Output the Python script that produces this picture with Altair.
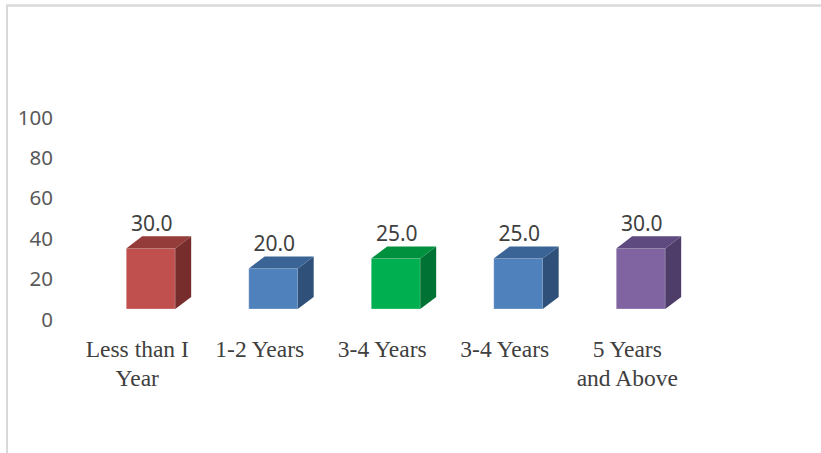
import json
import altair as alt
import pandas as pd

# ---- data ----
categories = ["Less than I Year", "1-2 Years", "3-4 Years", "3-4 Years", "5 Years and Above"]
category_lines = [["Less than I", "Year"], ["1-2 Years"], ["3-4 Years"], ["3-4 Years"], ["5 Years", "and Above"]]
values = [30.0, 20.0, 25.0, 25.0, 30.0]
front_colors = ["#C0504D", "#4F81BD", "#00B050", "#4F81BD", "#8064A2"]
top_colors = ["#933C39", "#3A6496", "#00913F", "#3A6496", "#5F4A7F"]
side_colors = ["#772D2B", "#2E5079", "#007233", "#2E5079", "#4E3C69"]
y_ticks = [0, 20, 40, 60, 80, 100]

# ---- 3D geometry (style constants) ----
HW = 0.2     # half bar width, x units
DX = 0.13    # depth offset, x units
DY = 6.0     # depth offset, y units

front_rows, side_rows, top_rows = [], [], []
for i, (v, fc, tc, sc) in enumerate(zip(values, front_colors, top_colors, side_colors)):
    front_rows.append(dict(bar=i, x0=i - HW, x1=i + HW, v=v, color=fc, label=f"{v:.1f}", xc=i, ly=v + DY))
    side_rows += [
        dict(bar=i, x=i + HW, y=v, y2=0.0, color=sc),
        dict(bar=i, x=i + HW + DX, y=v + DY, y2=DY, color=sc),
    ]
    top_rows += [
        dict(bar=i, y=v, x=i - HW, x2=i + HW, color=tc),
        dict(bar=i, y=v + DY, x=i - HW + DX, x2=i + HW + DX, color=tc),
    ]

front = pd.DataFrame(front_rows)
side = pd.DataFrame(side_rows)
top = pd.DataFrame(top_rows)

xscale = alt.Scale(domain=[-0.5, 4.5], nice=False, zero=False)
yscale = alt.Scale(domain=[0, 100], nice=False, zero=False)

label_expr = "split(" + json.dumps(["|".join(l) for l in category_lines]) + "[datum.value], '|')"

x_axis = alt.Axis(values=[0, 1, 2, 3, 4], labelExpr=label_expr, domain=False, ticks=False, grid=False,
                  labelFont="Liberation Serif", labelFontSize=23.5, labelColor="#404040",
                  labelPadding=28, labelOffset=-14, labelLineHeight=29, labelAngle=0)
y_axis = alt.Axis(values=y_ticks, domain=False, ticks=False, grid=False,
                  labelFont="Noto Sans", labelFontSize=20.5, labelColor="#595959",
                  labelPadding=37, labelOffset=11)

front_layer = alt.Chart(front).mark_rect(stroke="#ffffff", strokeOpacity=0.35, strokeWidth=0.8).encode(
    x=alt.X("x0:Q", scale=xscale, title=None, axis=x_axis),
    x2="x1:Q",
    y=alt.Y("v:Q", scale=yscale, title=None, axis=y_axis),
    y2=alt.datum(0),
    color=alt.Color("color:N", scale=None),
)

side_layer = alt.Chart(side).mark_area(orient="vertical").encode(
    x=alt.X("x:Q", scale=xscale, title=None),
    y=alt.Y("y:Q", scale=yscale, title=None),
    y2="y2:Q",
    detail="bar:N",
    color=alt.Color("color:N", scale=None),
)

top_layer = alt.Chart(top).mark_area(orient="horizontal").encode(
    y=alt.Y("y:Q", scale=yscale, title=None),
    x=alt.X("x:Q", scale=xscale, title=None),
    x2="x2:Q",
    detail="bar:N",
    color=alt.Color("color:N", scale=None),
)

text_layer = alt.Chart(front).mark_text(font="Noto Sans", fontSize=21, color="#404040",
                                        baseline="alphabetic", dy=-5, dx=1).encode(
    x=alt.X("xc:Q", scale=xscale, title=None),
    y=alt.Y("ly:Q", scale=yscale, title=None),
    text="label:N",
)

border_top = alt.Chart(front).mark_rule(color="#d9d9d9", strokeWidth=1.5, clip=False).encode(
    x=alt.value(-83.5), x2=alt.value(731.5), y=alt.value(-101.5))
border_left = alt.Chart(front).mark_rule(color="#d9d9d9", strokeWidth=2, clip=False).encode(
    x=alt.value(-82.5), y=alt.value(-102), y2=alt.value(346))

chart = alt.layer(front_layer, side_layer, top_layer, text_layer, border_top, border_left).properties(
    width=612.5, height=202,
    autosize=alt.AutoSizeParams(type="none"),
    padding={"left": 89.5, "top": 107, "right": 119, "bottom": 144},
).configure_view(stroke=None)

chart.save("out.html", embed_options={"renderer": "svg", "actions": False})
